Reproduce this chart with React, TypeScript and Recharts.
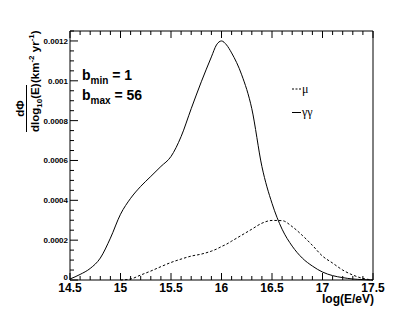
import { LineChart, Line, XAxis, YAxis } from "recharts";

const energy = [
  14.5, 14.6, 14.7, 14.8, 14.9, 15.0, 15.1, 15.2, 15.3, 15.4, 15.5, 15.6, 15.7, 15.8, 15.9, 15.95, 16.0,
  16.05, 16.1, 16.2, 16.3, 16.4, 16.5, 16.6, 16.7, 16.8, 16.9, 17.0, 17.1, 17.2, 17.3, 17.4, 17.5,
];
const gammaGamma = [
  0.000005, 0.000028, 0.000058, 0.00011, 0.00021, 0.00033, 0.00041, 0.00047, 0.00052, 0.00057, 0.00062,
  0.00072, 0.00086, 0.000995, 0.00112, 0.00118, 0.0012, 0.00118, 0.00114, 0.00103, 0.00086, 0.00057,
  0.000385, 0.000255, 0.00017, 0.00011, 0.00007, 0.00004, 0.000022, 0.000012, 0.000005, 0.000002, 0,
];
const muon = [
  null, null, null, null, null, 0, 0.000005, 0.000025, 0.000045, 0.000067, 0.000088, 0.000105, 0.00012,
  0.00013, 0.000145, 0.000155, 0.000168, 0.00018, 0.000195, 0.000225, 0.000255, 0.000285, 0.000299,
  0.000298, 0.000268, 0.000224, 0.000174, 0.00012, 0.000085, 0.00005, 0.000025, 0.000008, 0,
];

const xMajor = [14.5, 15, 15.5, 16, 16.5, 17, 17.5];
const yMajor = [0, 0.0002, 0.0004, 0.0006, 0.0008, 0.001, 0.0012];

const data = energy.map((e, i) => ({ e, gg: gammaGamma[i], mu: muon[i] }));

// minor ticks: 5 divisions on x, 4 on y
const xTicks = Array.from({ length: 31 }, (_, i) => Math.round((14.5 + i * 0.1) * 10) / 10);
const yTicks = Array.from({ length: 26 }, (_, i) => Number((i * 0.00005).toFixed(5)));

const isXMajor = (v: number) => xMajor.some((m) => Math.abs(m - v) < 1e-6);
const isYMajor = (v: number) => yMajor.some((m) => Math.abs(m - v) < 1e-9);
const yLabel = (v: number) => (v === 0 ? "0" : v.toFixed(4).replace(/0+$/, ""));

const FONT = "'Liberation Sans', Arial, sans-serif";

// plot frame: x 70..373, y 31..280
const BottomTick = ({ x, payload }: any) => {
  const y = 280;
  const major = isXMajor(payload.value);
  return (
    <g>
      <line x1={x} x2={x} y1={y} y2={y - (major ? 7 : 4)} stroke="#000" />
      {major && (
        <text x={x} y={y + 11.5} textAnchor="middle" fontSize={12} fontWeight="bold" fontFamily={FONT} fill="#000">
          {String(payload.value)}
        </text>
      )}
    </g>
  );
};

const TopTick = ({ x, payload }: any) => {
  const y = 31;
  const major = isXMajor(payload.value);
  return <line x1={x} x2={x} y1={y} y2={y + (major ? 7 : 4)} stroke="#000" />;
};

const LeftTick = ({ y, payload }: any) => {
  const x = 70;
  const major = isYMajor(payload.value);
  return (
    <g>
      <line x1={x} x2={x + (major ? 8 : 4)} y1={y} y2={y} stroke="#000" />
      {major && (
        <text
          x={x - 2}
          y={payload.value === 0 ? y : y + 3}
          textAnchor="end"
          fontSize={8}
          fontWeight="bold"
          fontFamily={FONT}
          fill="#000"
        >
          {yLabel(payload.value)}
        </text>
      )}
    </g>
  );
};

const RightTick = ({ y, payload }: any) => {
  const x = 373;
  const major = isYMajor(payload.value);
  return <line x1={x} x2={x - (major ? 8 : 4)} y1={y} y2={y} stroke="#000" />;
};

export default function App() {
  return (
    <div style={{ position: "absolute", left: 0, top: 0, width: 415, height: 311, background: "#fff" }}>
      <LineChart width={415} height={311} data={data} margin={{ top: 21, right: 32, bottom: 11, left: 30 }}>
        <XAxis
          xAxisId="b"
          dataKey="e"
          type="number"
          domain={[14.5, 17.5]}
          ticks={xTicks}
          interval={0}
          height={20}
          tickLine={false}
          axisLine={{ stroke: "#000" }}
          tick={BottomTick}
        />
        <XAxis
          xAxisId="t"
          orientation="top"
          dataKey="e"
          type="number"
          domain={[14.5, 17.5]}
          ticks={xTicks}
          interval={0}
          height={10}
          tickLine={false}
          axisLine={{ stroke: "#000" }}
          tick={TopTick}
        />
        <YAxis
          yAxisId="l"
          type="number"
          domain={[0, 0.00125]}
          ticks={yTicks}
          interval={0}
          width={40}
          tickLine={false}
          axisLine={{ stroke: "#000" }}
          tick={LeftTick}
        />
        <YAxis
          yAxisId="r"
          orientation="right"
          type="number"
          domain={[0, 0.00125]}
          ticks={yTicks}
          interval={0}
          width={10}
          tickLine={false}
          axisLine={{ stroke: "#000" }}
          tick={RightTick}
        />
        <Line
          xAxisId="b"
          yAxisId="l"
          type="monotone"
          dataKey="gg"
          stroke="#000"
          strokeWidth={1}
          dot={false}
          isAnimationActive={false}
        />
        <Line
          xAxisId="b"
          yAxisId="l"
          type="monotone"
          dataKey="mu"
          stroke="#000"
          strokeWidth={1}
          strokeDasharray="2.5 2"
          dot={false}
          isAnimationActive={false}
        />
      </LineChart>
      <svg width={415} height={311} style={{ position: "absolute", left: 0, top: 0, pointerEvents: "none" }}>
        <g transform="translate(39,132) rotate(-90)" fontFamily={FONT} fontWeight="bold" fill="#000">
          <text x={0} y={0} fontSize={11.5}>
            dlog<tspan fontSize={8} dy={3}>10</tspan>
            <tspan dy={-3}>(E)</tspan>
          </text>
          <line x1={0} x2={47} y1={-12.5} y2={-12.5} stroke="#000" strokeWidth={1} />
          <text x={23.5} y={-15} fontSize={11.5} textAnchor="middle">
            dΦ
          </text>
          <text x={49} y={0} fontSize={11.5}>
            (km<tspan fontSize={8} dy={-5}>-2</tspan>
            <tspan dy={5}> yr</tspan>
            <tspan fontSize={8} dy={-5}>-1</tspan>
            <tspan dy={5}>)</tspan>
          </text>
        </g>
        <text x={82} y={80} fontSize={14} fontWeight="bold" fontFamily={FONT}>
          b<tspan fontSize={10} dy={4}>min</tspan>
          <tspan dy={-4}> = 1</tspan>
        </text>
        <text x={82} y={100} fontSize={14} fontWeight="bold" fontFamily={FONT}>
          b<tspan fontSize={10} dy={4}>max</tspan>
          <tspan dy={-4}> = 56</tspan>
        </text>
        <line x1={292} x2={301} y1={89} y2={89} stroke="#000" strokeDasharray="2 1.5" />
        <text x={302} y={93} fontSize={12} fontFamily="'Liberation Serif', serif">
          μ
        </text>
        <line x1={292} x2={301} y1={112.5} y2={112.5} stroke="#000" />
        <text x={302} y={116} fontSize={12} fontFamily="'Liberation Serif', serif">
          γγ
        </text>
        <text x={374} y={303} textAnchor="end" fontSize={12} fontWeight="bold" fontFamily={FONT}>
          log(E/eV)
        </text>
      </svg>
    </div>
  );
}
